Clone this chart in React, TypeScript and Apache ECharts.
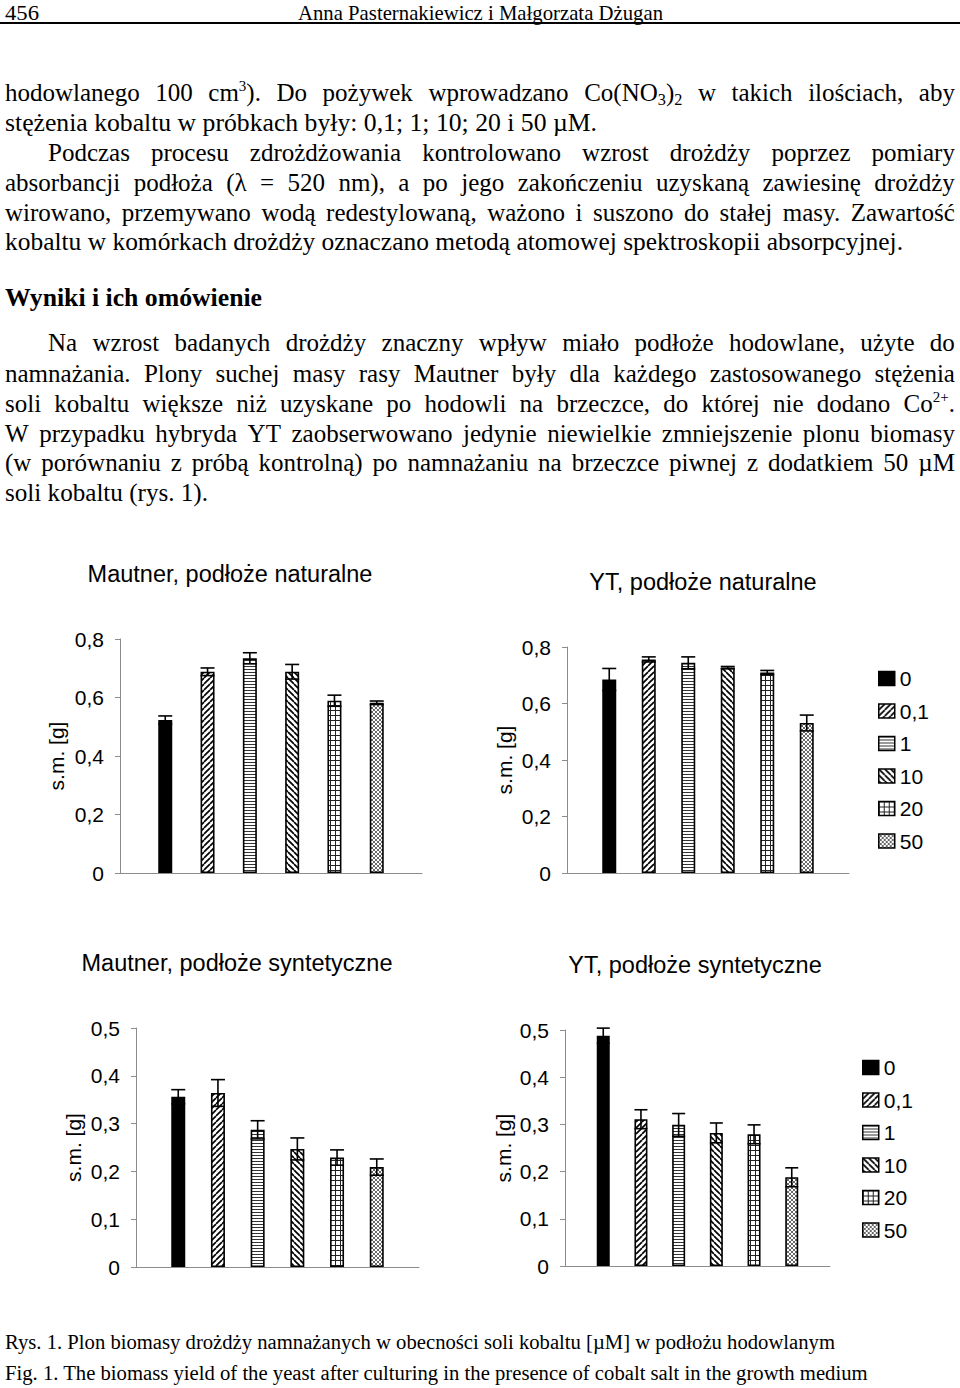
import React, { useEffect, useRef } from "react";
import * as echarts from "echarts";

// ---------------- data ----------------
const concentrations = ["0", "0,1", "1", "10", "20", "50"]; // cobalt salt [µM]
const category = ["Co"];
const panelTitles = [
  "Mautner, podłoże naturalne",
  "YT, podłoże naturalne",
  "Mautner, podłoże syntetyczne",
  "YT, podłoże syntetyczne",
];
const yAxisName = "s.m. [g]";
const naturalTicks = ["0", "0,2", "0,4", "0,6", "0,8"];
const syntheticTicks = ["0", "0,1", "0,2", "0,3", "0,4", "0,5"];

const mautnerNatural = [0.523, 0.688, 0.734, 0.688, 0.589, 0.582];
const mautnerNaturalSd = [0.014, 0.013, 0.019, 0.025, 0.019, 0.006];
const ytNatural = [0.685, 0.756, 0.744, 0.727, 0.71, 0.531];
const ytNaturalSd = [0.039, 0.009, 0.021, 0.004, 0.007, 0.028];
const mautnerSynthetic = [0.356, 0.364, 0.287, 0.247, 0.229, 0.209];
const mautnerSyntheticSd = [0.015, 0.028, 0.019, 0.023, 0.016, 0.017];
const ytSynthetic = [0.488, 0.311, 0.299, 0.282, 0.279, 0.188];
const ytSyntheticSd = [0.016, 0.02, 0.024, 0.021, 0.02, 0.02];

// ---------------- page text ----------------
type LineSpec = { t: string; y: number; x: number; w: number; j?: boolean; size?: number; bold?: boolean };
const pageLines: LineSpec[] = [
  { t: "456", y: 13, x: 5, w: 34, size: 21 },
  { t: "Anna Pasternakiewicz i Małgorzata Dżugan", y: 13, x: 298, w: 365, size: 21 },
  { t: "hodowlanego 100 cm^{3}). Do pożywek wprowadzano Co(NO_{3})_{2} w takich ilościach, aby", y: 93, x: 5, w: 950, j: true },
  { t: "stężenia kobaltu w próbkach były: 0,1; 1; 10; 20 i 50 µM.", y: 123, x: 5, w: 592 },
  { t: "Podczas procesu zdrożdżowania kontrolowano wzrost drożdży poprzez pomiary", y: 153, x: 48, w: 907, j: true },
  { t: "absorbancji podłoża (λ = 520 nm), a po jego zakończeniu uzyskaną zawiesinę drożdży", y: 183, x: 5, w: 950, j: true },
  { t: "wirowano, przemywano wodą redestylowaną, ważono i suszono do stałej masy. Zawartość", y: 213, x: 5, w: 950, j: true },
  { t: "kobaltu w komórkach drożdży oznaczano metodą atomowej spektroskopii absorpcyjnej.", y: 242, x: 5, w: 898 },
  { t: "Wyniki i ich omówienie", y: 298, x: 5, w: 257, bold: true },
  { t: "Na wzrost badanych drożdży znaczny wpływ miało podłoże hodowlane, użyte do", y: 343, x: 48, w: 907, j: true },
  { t: "namnażania. Plony suchej masy rasy Mautner były dla każdego zastosowanego stężenia", y: 374, x: 5, w: 950, j: true },
  { t: "soli kobaltu większe niż uzyskane po hodowli na brzeczce, do której nie dodano Co^{2+}.", y: 404, x: 5, w: 950, j: true },
  { t: "W przypadku hybryda YT zaobserwowano jedynie niewielkie zmniejszenie plonu biomasy", y: 434, x: 5, w: 950, j: true },
  { t: "(w porównaniu z próbą kontrolną) po namnażaniu na brzeczce piwnej z dodatkiem 50 µM", y: 463, x: 5, w: 950, j: true },
  { t: "soli kobaltu (rys. 1).", y: 493, x: 5, w: 203 },
  { t: "Rys. 1. Plon biomasy drożdży namnażanych w obecności soli kobaltu [µM] w podłożu hodowlanym", y: 1342, x: 5, w: 830, size: 20 },
  { t: "Fig. 1. The biomass yield of the yeast after culturing in the presence of cobalt salt in the growth medium", y: 1373, x: 5, w: 863, size: 20 },
];

const SERIF = '"Liberation Serif", "Times New Roman", serif';
const SANS = '"Liberation Sans", Arial, sans-serif';

let measureCtx: CanvasRenderingContext2D | null = null;
function measure(text: string, size: number, bold?: boolean) {
  if (!measureCtx) measureCtx = document.createElement("canvas").getContext("2d");
  if (!measureCtx) return 0;
  measureCtx.font = `${bold ? "bold " : ""}${size}px "Liberation Serif"`;
  return measureCtx.measureText(text.replace(/[\^_]\{([^}]*)\}/g, "$1")).width;
}

function rich(text: string) {
  const parts = text.split(/(\^\{[^}]*\}|_\{[^}]*\})/);
  return parts.map((p, k) => {
    if (p.startsWith("^{"))
      return (
        <sup key={k} style={{ fontSize: "0.6em", lineHeight: 0, verticalAlign: "0.65em" }}>
          {p.slice(2, -1)}
        </sup>
      );
    if (p.startsWith("_{"))
      return (
        <sub key={k} style={{ fontSize: "0.65em", lineHeight: 0, verticalAlign: "-0.25em" }}>
          {p.slice(2, -1)}
        </sub>
      );
    return <React.Fragment key={k}>{p}</React.Fragment>;
  });
}

function Line({ s }: { s: LineSpec }) {
  const size = s.size ?? 25;
  const lh = size * 1.2;
  const natural = measure(s.t, size, s.bold);
  const base: React.CSSProperties = {
    position: "absolute",
    left: s.x,
    top: s.y - 0.5875 * size,
    height: lh,
    lineHeight: `${lh}px`,
    fontSize: size,
    fontFamily: SERIF,
    fontWeight: s.bold ? 700 : 400,
    color: "#000",
    whiteSpace: "nowrap",
    transformOrigin: "0 0",
  };
  if (s.j) {
    const cw = Math.max(s.w, natural + s.t.split(" ").length * 1.5);
    const sc = s.w / cw;
    return (
      <div style={{ ...base, width: cw, display: "flex", justifyContent: "space-between", transform: `scaleX(${sc})` }}>
        {s.t.split(" ").map((wd, k) => (
          <span key={k} style={{ whiteSpace: "pre" }}>
            {rich(wd)}
          </span>
        ))}
      </div>
    );
  }
  const sc = natural > 0 ? s.w / natural : 1;
  return <div style={{ ...base, transform: `scaleX(${sc})` }}>{rich(s.t)}</div>;
}

// ---------------- patterns ----------------
function makeTile(kind: string): any {
  if (kind === "solid") return "#000";
  const s = kind === "h" ? 3 : kind === "x" ? 4 : kind === "grid" ? 5 : 6;
  const c = document.createElement("canvas");
  c.width = s;
  c.height = s;
  const ctx = c.getContext("2d")!;
  ctx.fillStyle = "#fff";
  ctx.fillRect(0, 0, s, s);
  ctx.strokeStyle = "#000";
  ctx.fillStyle = "#000";
  if (kind === "up" || kind === "down") {
    ctx.lineWidth = 1.7;
    for (const o of [-s, 0, s]) {
      ctx.beginPath();
      if (kind === "up") {
        ctx.moveTo(o, s);
        ctx.lineTo(o + s, 0);
      } else {
        ctx.moveTo(o, 0);
        ctx.lineTo(o + s, s);
      }
      ctx.stroke();
    }
  } else if (kind === "h") {
    ctx.fillStyle = "#333";
    ctx.fillRect(0, 0, s, 1);
  } else if (kind === "grid") {
    ctx.fillStyle = "#222";
    ctx.fillRect(0, 0, s, 1);
    ctx.fillRect(0, 0, 1, s);
  } else if (kind === "x") {
    ctx.strokeStyle = "#444";
    ctx.lineWidth = 0.8;
    for (const o of [-s, 0, s]) {
      ctx.beginPath();
      ctx.moveTo(o, s);
      ctx.lineTo(o + s, 0);
      ctx.moveTo(o, 0);
      ctx.lineTo(o + s, s);
      ctx.stroke();
    }
  }
  return { image: c.toDataURL(), repeat: "repeat", imageWidth: s, imageHeight: s };
}
const patternKinds = ["solid", "up", "h", "down", "grid", "x"];

// ---------------- layout ----------------
const panels = [
  { title: panelTitles[0], values: mautnerNatural, sd: mautnerNaturalSd, max: 0.8, step: 0.2, ticks: naturalTicks,
    grid: { left: 120, top: 639, width: 302, height: 234 }, barWidth: 14, spacing: 42.3, titleX: 230, titleY: 574, nameGap: 53, legend: null as any },
  { title: panelTitles[1], values: ytNatural, sd: ytNaturalSd, max: 0.8, step: 0.2, ticks: naturalTicks,
    grid: { left: 567, top: 647, width: 282, height: 226 }, barWidth: 14, spacing: 39.5, titleX: 703, titleY: 582, nameGap: 52, legend: { left: 878, top: 668 } },
  { title: panelTitles[2], values: mautnerSynthetic, sd: mautnerSyntheticSd, max: 0.5, step: 0.1, ticks: syntheticTicks,
    grid: { left: 136, top: 1028, width: 283, height: 239 }, barWidth: 14, spacing: 39.7, titleX: 237, titleY: 963, nameGap: 52, legend: null },
  { title: panelTitles[3], values: ytSynthetic, sd: ytSyntheticSd, max: 0.5, step: 0.1, ticks: syntheticTicks,
    grid: { left: 565, top: 1030, width: 265, height: 236 }, barWidth: 13, spacing: 37.7, titleX: 695, titleY: 965, nameGap: 51, legend: { left: 862, top: 1057 } },
];

function Charts() {
  const ref = useRef<HTMLDivElement>(null);
  useEffect(() => {
    if (!ref.current) return;
    const chart = echarts.init(ref.current, null, { renderer: "svg" });
    const fills = patternKinds.map(makeTile);
    const axisGray = "#8c8c8c";
    const series: any[] = [];
    panels.forEach((p, g) => {
      const gap = `${(p.spacing / p.barWidth - 1) * 100}%`;
      concentrations.forEach((name, i) => {
        series.push({
          type: "bar",
          name,
          xAxisIndex: g,
          yAxisIndex: g,
          data: [p.values[i]],
          barWidth: p.barWidth,
          barGap: gap,
          itemStyle: { color: fills[i], borderColor: "#000", borderWidth: 1.6 },
          emphasis: { disabled: true },
        });
      });
      const n = concentrations.length;
      series.push({
        type: "custom",
        name: "SD",
        xAxisIndex: g,
        yAxisIndex: g,
        z: 5,
        encode: { x: 0, y: 1 },
        data: p.values.map((v, i) => [0, v, p.sd[i], i]),
        renderItem: (_params: any, api: any) => {
          const v = api.value(1);
          const e = api.value(2);
          const i = api.value(3);
          const top = api.coord([0, v + e]);
          const bot = api.coord([0, v - e]);
          const x = top[0] + (i - (n - 1) / 2) * p.spacing;
          const half = p.barWidth / 2;
          const st = { stroke: "#000", lineWidth: 1.6 };
          return {
            type: "group",
            children: [
              { type: "line", shape: { x1: x, y1: top[1], x2: x, y2: bot[1] }, style: st },
              { type: "line", shape: { x1: x - half, y1: top[1], x2: x + half, y2: top[1] }, style: st },
              { type: "line", shape: { x1: x - half, y1: bot[1], x2: x + half, y2: bot[1] }, style: st },
            ],
          };
        },
      });
    });

    const option: any = {
      animation: false,
      grid: panels.map((p) => ({ ...p.grid })),
      xAxis: panels.map((_p, g) => ({
        type: "category",
        gridIndex: g,
        data: category,
        axisLine: { show: true, lineStyle: { color: axisGray, width: 1 } },
        axisTick: { show: false },
        axisLabel: { show: false },
        splitLine: { show: false },
      })),
      yAxis: panels.map((p, g) => ({
        type: "value",
        gridIndex: g,
        min: 0,
        max: p.max,
        interval: p.step,
        axisLine: { show: true, lineStyle: { color: axisGray, width: 1 } },
        axisTick: { show: true, length: 5, lineStyle: { color: axisGray } },
        splitLine: { show: false },
        axisLabel: {
          fontSize: 21,
          fontFamily: SANS,
          color: "#000",
          margin: 16,
          formatter: (_v: number, idx: number) => p.ticks[idx],
        },
        name: yAxisName,
        nameLocation: "middle",
        nameGap: p.nameGap,
        nameTextStyle: { fontSize: 21, fontFamily: SANS, color: "#000" },
      })),
      legend: panels
        .filter((p) => p.legend)
        .map((p) => ({
          orient: "vertical",
          left: p.legend.left,
          top: p.legend.top,
          padding: 0,
          itemWidth: 16,
          itemHeight: 14,
          itemGap: 11.5,
          icon: "rect",
          selectedMode: false,
          data: concentrations,
          itemStyle: { borderColor: "#000", borderWidth: 1.5 },
          textStyle: { fontSize: 21, lineHeight: 21, fontFamily: SANS, color: "#000" },
        })),
      graphic: panels.map((p) => ({
        type: "text",
        x: p.titleX,
        y: p.titleY,
        style: {
          text: p.title,
          font: `23.5px ${SANS}`,
          fill: "#000",
          align: "center",
          verticalAlign: "middle",
        },
      })),
      series,
    };
    chart.setOption(option);
    return () => chart.dispose();
  }, []);
  return <div ref={ref} style={{ position: "absolute", left: 0, top: 0, width: 960, height: 1388 }} />;
}

export default function App() {
  return (
    <div style={{ position: "absolute", left: 0, top: 0, width: 960, height: 1388, background: "#fff", overflow: "hidden" }}>
      <Charts />
      <div style={{ position: "absolute", left: 0, top: 22, width: 960, height: 2, background: "#000" }} />
      {pageLines.map((s, k) => (
        <Line key={k} s={s} />
      ))}
    </div>
  );
}
